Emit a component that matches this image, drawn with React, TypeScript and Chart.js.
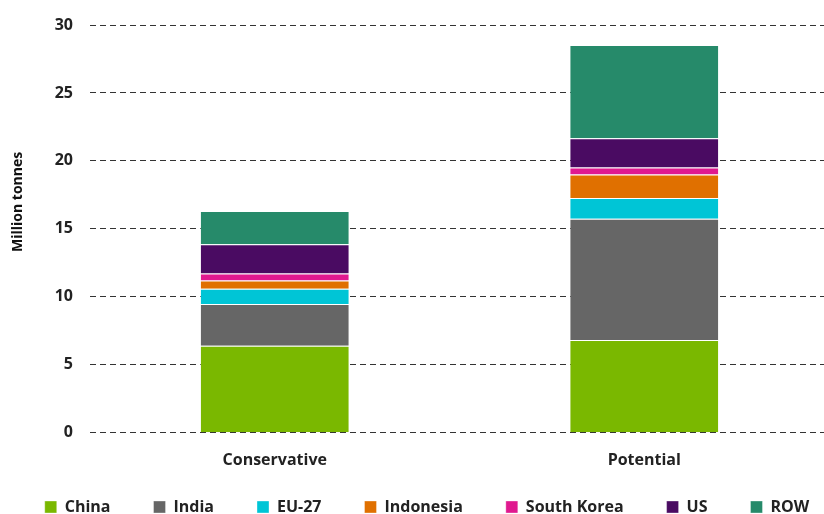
import React, { useEffect, useRef } from "react";
import { Chart, registerables } from "chart.js";
Chart.register(...registerables);

const categories = ["Conservative", "Potential"];
const china = [6.4, 6.82];
const india = [3.08, 8.93];
const eu27 = [1.12, 1.52];
const indonesia = [0.6, 1.73];
const southKorea = [0.52, 0.52];
const us = [2.15, 2.15];
const row = [2.45, 6.85];
const yTicks = [0, 5, 10, 15, 20, 25, 30];

const FONT = "'Open Sans', 'Liberation Sans', sans-serif";
const LEGEND_SHRINK = 35;
const LEGEND_DX = 15;
const LEGEND_DY = -24;
const LEGEND_EXTRA = 200;
const X_EXTEND = 5;
const TITLE_SHIFT = -27;

const layoutTweak = {
  id: "layoutTweak",
  afterInit(chart: any) {
    const lg = chart.legend;
    if (!lg) return;
    const fit = lg.fit.bind(lg);
    lg.fit = function () {
      const mw = this.maxWidth;
      this.maxWidth = mw + 300;
      fit();
      this.maxWidth = mw;
      this.width = Math.min(this.width, mw);
      this.height = Math.max(0, this.height - LEGEND_SHRINK);
    };
    lg.draw = function () {
      if (!this.options.display) return;
      const ctx = this.ctx;
      const r = this.right;
      this.right = r + LEGEND_EXTRA;
      ctx.save();
      ctx.translate(LEGEND_DX - LEGEND_EXTRA / 2, LEGEND_DY);
      this._draw();
      ctx.restore();
      this.right = r;
    };
  },
  afterLayout(chart: any) {
    const x = chart.scales.x;
    if (x) {
      x._endPixel += X_EXTEND;
      x._length += X_EXTEND;
    }
    const y = chart.scales.y;
    if (y && !y._titlePatched) {
      const dt = y.drawTitle.bind(y);
      y.drawTitle = function () {
        const c = this.ctx;
        c.save();
        c.translate(0, TITLE_SHIFT);
        dt();
        c.restore();
      };
      y._titlePatched = true;
    }
  },
};

export default function App() {
  const ref = useRef<HTMLCanvasElement | null>(null);
  useEffect(() => {
    if (!ref.current) return;
    const mk = (label: string, data: number[], color: string) => ({
      label,
      data,
      backgroundColor: color,
      borderColor: "rgba(255,255,255,0.35)",
      borderWidth: 1,
      barPercentage: 0.405,
      categoryPercentage: 1,
    });
    const chart = new Chart(ref.current, {
      type: "bar",
      plugins: [layoutTweak],
      data: {
        labels: categories,
        datasets: [
          mk("China", china, "#7AB800"),
          mk("India", india, "#666666"),
          mk("EU-27", eu27, "#00C5D6"),
          mk("Indonesia", indonesia, "#E07000"),
          mk("South Korea", southKorea, "#E0198F"),
          mk("US", us, "#4A0B62"),
          mk("ROW", row, "#268A6A"),
        ],
      },
      options: {
        animation: false,
        responsive: false,
        layout: { padding: { top: 23, right: 0, left: 0, bottom: 0 } },
        plugins: {
          tooltip: { enabled: false },
          legend: {
            position: "bottom",
            labels: {
              boxWidth: 12,
              boxHeight: 12,
              padding: 43,
              color: "#222",
              font: { family: FONT, size: 16, weight: "bold" },
            },
          },
        },
        scales: {
          x: {
            stacked: true,
            grid: { display: false },
            border: { display: false },
            ticks: {
              color: "#222",
              padding: 10,
              font: { family: FONT, size: 16, weight: "bold" },
            },
          },
          y: {
            stacked: true,
            min: 0,
            max: 30,
            afterBuildTicks: (s: any) => {
              s.ticks = yTicks.map((v) => ({ value: v }));
            },
            afterFit: (s: any) => {
              s.width = 90;
            },
            grid: {
              color: "#333",
              lineWidth: 1,
              drawTicks: false,
            },
            border: { display: false, dash: [6, 4] },
            title: {
              display: true,
              text: "Million tonnes",
              color: "#111",
              padding: { top: 10, bottom: 0 },
              font: { family: FONT, size: 14, weight: "bold" },
            },
            ticks: {
              color: "#222",
              padding: 17,
              font: { family: FONT, size: 16, weight: "bold", lineHeight: 1 },
            },
          },
        },
      },
    });
    return () => chart.destroy();
  }, []);
  return (
    <div style={{ position: "fixed", left: 0, top: 0, width: 824, height: 514, background: "#fff" }}>
      <canvas ref={ref} width={824} height={514} style={{ width: 824, height: 514 }} />
    </div>
  );
}
